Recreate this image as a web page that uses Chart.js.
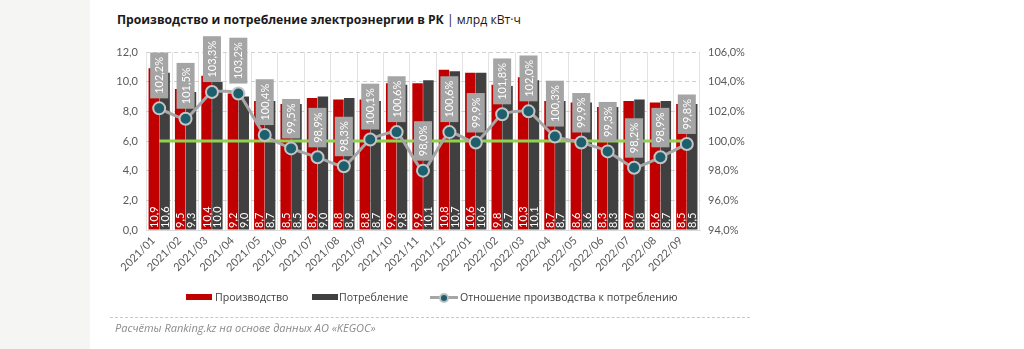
<!DOCTYPE html>
<html><head><meta charset="utf-8">
<script src="https://cdn.jsdelivr.net/npm/chart.js@4"></script>
<style>
html,body{margin:0;padding:0;width:1024px;height:349px;background:#fff;overflow:hidden;font-family:"Open Sans",sans-serif;}
#panel{position:absolute;left:0;top:0;width:90px;height:349px;background:#f5f5f3;}
#title{position:absolute;left:117px;top:11px;font-size:12.2px;color:#1a1a1a;white-space:nowrap;}
#title b{font-weight:700;}
#wrap{position:absolute;left:0;top:0;width:1024px;height:349px;}
#legend{position:absolute;top:289px;left:186px;font-size:10.6px;color:#404040;white-space:nowrap;}
.li{position:absolute;top:0;height:16px;line-height:16px;}
.sw{position:absolute;top:5px;width:26px;height:6px;}
#rule{position:absolute;left:110px;top:317px;width:640px;border-top:1px dashed #c8c8c8;}
#src{position:absolute;left:115px;top:320px;font-size:11px;font-style:italic;color:#8a8a8a;white-space:nowrap;}
</style></head>
<body>
<div id="panel"></div>
<div id="title"><b>Производство и потребление электроэнергии в РК</b> | млрд кВт·ч</div>
<div id="wrap"><canvas id="c" width="1024" height="349"></canvas></div>
<div id="legend">
  <div class="li" style="left:0"><div class="sw" style="left:0;background:#c00000"></div><span style="margin-left:29px">Производство</span></div>
  <div class="li" style="left:126px"><div class="sw" style="left:0;background:#404040"></div><span style="margin-left:27px">Потребление</span></div>
  <div class="li" style="left:244px">
    <div style="position:absolute;left:0;top:7px;width:28px;height:3px;background:#a6a6a6"></div>
    <div style="position:absolute;left:9px;top:4px;width:6px;height:6px;border-radius:50%;background:#1d5f6d;border:2px solid #bfbfbf"></div>
    <span style="margin-left:30px">Отношение производства к потреблению</span></div>
</div>
<div id="rule"></div>
<div id="src">Расчёты Ranking.kz на основе данных АО «KEGOC»</div>
<script>
const categories = ["2021/01","2021/02","2021/03","2021/04","2021/05","2021/06","2021/07","2021/08","2021/09","2021/10","2021/11","2021/12","2022/01","2022/02","2022/03","2022/04","2022/05","2022/06","2022/07","2022/08","2022/09"];
const production = [10.9,9.5,10.4,9.2,8.7,8.5,8.9,8.8,8.8,9.9,9.9,10.8,10.6,9.8,10.3,8.7,8.6,8.3,8.7,8.6,8.5];
const consumption = [10.6,9.3,10.0,9.0,8.7,8.5,9.0,8.9,8.7,9.8,10.1,10.7,10.6,9.7,10.1,8.7,8.6,8.3,8.8,8.7,8.5];
const ratio = [102.2,101.5,103.3,103.2,100.4,99.5,98.9,98.3,100.1,100.6,98.0,100.6,99.9,101.8,102.0,100.3,99.9,99.3,98.2,98.9,99.8];
const parity = categories.map(() => 100);
const leftTicks = [0,2,4,6,8,10,12];
const rightTicks = [94,96,98,100,102,104,106];

const FONT = "Lato";
const comma = (v, d) => v.toFixed(d).replace('.', ',');

const labelsPlugin = {
  id: 'labels',
  afterDatasetsDraw(chart) {
    const ctx = chart.ctx;
    const base = chart.scales.y.getPixelForValue(0);
    [0,1].forEach(di => {
      const meta = chart.getDatasetMeta(di);
      meta.data.forEach((el, i) => {
        const v = chart.data.datasets[di].data[i];
        ctx.save();
        ctx.translate(el.x, base - 2);
        ctx.rotate(-Math.PI/2);
        ctx.font = "11px " + FONT;
        ctx.fillStyle = "#ffffff";
        ctx.textAlign = "left";
        ctx.textBaseline = "middle";
        ctx.fillText(comma(v,1), 0, 0.5);
        ctx.restore();
      });
    });
    const meta = chart.getDatasetMeta(3);
    meta.data.forEach((el, i) => {
      const t = comma(ratio[i],1) + "%";
      ctx.save();
      ctx.font = "11px " + FONT;
      const w = ctx.measureText(t).width;
      const h = w + 9, bw = 18;
      const bottom = el.y - 10;
      ctx.fillStyle = "#a5a5a5";
      ctx.fillRect(el.x - bw/2, bottom - h, bw, h);
      ctx.translate(el.x, bottom - h/2);
      ctx.rotate(-Math.PI/2);
      ctx.fillStyle = "#ffffff";
      ctx.textAlign = "center";
      ctx.textBaseline = "middle";
      ctx.fillText(t, 0, 0.5);
      ctx.restore();
    });
  }
};

new Chart(document.getElementById('c'), {
  data: {
    labels: categories,
    datasets: [
      {type:'bar', label:'Производство', data: production, backgroundColor:'#c00000', yAxisID:'y', order:3, categoryPercentage:0.82, barPercentage:0.97},
      {type:'bar', label:'Потребление', data: consumption, backgroundColor:'#404040', yAxisID:'y', order:3, categoryPercentage:0.82, barPercentage:0.97},
      {type:'line', label:'100%', data: parity, borderColor:'#92d050', borderWidth:3, pointRadius:0, yAxisID:'y1', order:2},
      {type:'line', label:'Отношение производства к потреблению', data: ratio, borderColor:'#a6a6a6', borderWidth:3,
        pointRadius:6, pointBackgroundColor:'#1d5f6d', pointBorderColor:'#c4c4c4', pointBorderWidth:2, yAxisID:'y1', order:1, tension:0.15}
    ]
  },
  options: {
    responsive:false, animation:false,
    layout:{padding:{left:106, right:264, top:52, bottom:64}},
    plugins:{legend:{display:false}, tooltip:{enabled:false}},
    scales:{
      x:{
        offset:true,
        grid:{display:true, offset:true, color:'#e3e3e3', drawTicks:false},
        border:{color:'#d9d9d9'},
        ticks:{font:{family:FONT,size:11}, color:'#595959', minRotation:45, maxRotation:45, autoSkip:false, padding:4, labelOffset:-6},
        afterFit(s){ s.height = 55; }
      },
      y:{
        position:'left', min:0, max:12,
        afterBuildTicks(s){ s.ticks = [0,1,2,3,4,5,6,7,8,9,10,11,12].map(v=>({value:v})); },
        ticks:{font:{family:FONT,size:11}, color:'#595959', padding:8, callback:(v)=> leftTicks.includes(v) ? comma(v,1) : ''},
        grid:{color:(c)=> (c.tick && c.tick.value % 2 === 0) ? '#d0d0d0' : '#ececec', drawTicks:false},
        border:{display:false, dash:(c)=> (c.tick && c.tick.value % 2 === 0) ? [4,3] : []},
        afterFit(s){ s.width = 40; }
      },
      y1:{
        position:'right', min:94, max:106,
        afterBuildTicks(s){ s.ticks = rightTicks.map(v=>({value:v})); },
        ticks:{font:{family:FONT,size:11}, color:'#595959', padding:8, callback:(v)=> comma(v,1) + '%'},
        grid:{display:false, drawTicks:false},
        border:{display:false},
        afterFit(s){ s.width = 60; }
      }
    }
  },
  plugins:[labelsPlugin]
});
</script>
</body></html>
